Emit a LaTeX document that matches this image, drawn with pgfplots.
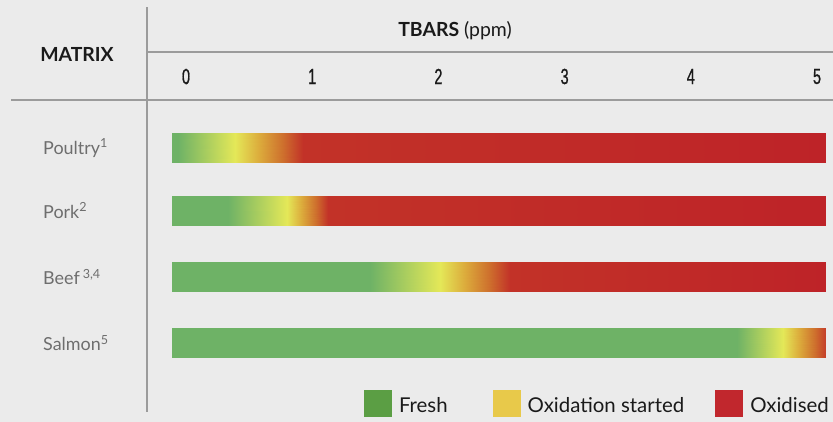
\documentclass[border=0pt]{standalone}
\usepackage{pgfplots}
\pgfplotsset{compat=1.18}
\usepackage{fontspec}
\setmainfont{Lato}
\newfontfamily\numfont{Liberation Sans}[FakeStretch=0.66,FakeBold=0.8]
\definecolor{bg}{RGB}{235,235,235}
\definecolor{rule}{RGB}{155,155,155}
\definecolor{labgray}{RGB}{110,110,110}
\definecolor{txt}{RGB}{26,26,26}
\definecolor{legGreen}{RGB}{91,158,68}
\definecolor{legYellow}{RGB}{232,201,74}
\definecolor{legRed}{RGB}{193,39,45}
\begin{document}
\begin{tikzpicture}
\fill[bg] (0,0) rectangle (833bp,422bp);
\draw[rule, line width=1.2bp] (147bp,10bp) -- (147bp,415bp);
\draw[rule, line width=1.2bp] (147bp,370bp) -- (833bp,370bp);
\draw[rule, line width=1.2bp] (11bp,322bp) -- (833bp,322bp);
\node[text=txt, font=\fontsize{19.5}{19.5}\selectfont\bfseries] at (77bp,368bp) {MATRIX};
\node[text=txt, font=\fontsize{19.5}{19.5}\selectfont] at (455bp,391bp) {\textbf{TBARS} (ppm)};
\begin{axis}[
  at={(172bp,46.5bp)}, anchor=south west,
  scale only axis, width=654bp, height=260bp,
  xmin=-0.111, xmax=5.071, ymin=-0.5, ymax=3.5,
  axis line style={draw=none},
  major tick length=0pt, tick style={draw=none},
  xtick={0,1,2,3,4,5}, xticklabels={0,1,2,3,4,5},
  xticklabel pos=upper,
  xticklabel style={anchor=center, yshift=39bp, text=txt, font=\numfont\fontsize{22}{22}\selectfont},
  ytick={0,1.015,2.038,3},
  yticklabels={Salmon\textsuperscript{5},Beef\,\textsuperscript{3,4},Pork\textsuperscript{2},Poultry\textsuperscript{1}},
  yticklabel style={anchor=west, inner sep=0pt, xshift=-129bp, text=labgray, font=\fontsize{18}{18}\selectfont},
  clip=false,
  colormap={tbars}{rgb255(0cm)=(110,178,102); rgb255(1cm)=(228,232,88); rgb255(1.7cm)=(220,172,60); rgb255(2.4cm)=(206,112,45); rgb255(3cm)=(194,50,40); rgb255(4cm)=(190,35,40)},
  point meta min=0, point meta max=4,
  legend columns=3,
  legend image code/.code={\fill[#1] (0bp,-11.5bp) rectangle (28bp,15.5bp);},
  legend style={draw=none, fill=none, inner sep=0pt, outer sep=0pt,
    at={(0,0)}, anchor=north west, xshift=192bp, yshift=-14.5bp,
    font=\fontsize{20.5}{20.5}\selectfont, text=txt,
    nodes={inner sep=0pt},
    /tikz/every odd column/.append style={column sep=7bp},
    /tikz/every even column/.append style={column sep=45bp}},
]
\addlegendimage{fill=legGreen, draw=none}
\addlegendentry{Fresh}
\addlegendimage{fill=legYellow, draw=none}
\addlegendentry{Oxidation started\hspace*{-14bp}}
\addlegendimage{fill=legRed, draw=none}
\addlegendentry{Oxidised}
% Poultry
\addplot[patch, patch type=rectangle, shader=interp, point meta=explicit] coordinates {
(-0.111,2.77) [0] (-0.06,2.77) [0] (-0.06,3.23) [0] (-0.111,3.23) [0]
(-0.06,2.77) [0] (0.388,2.77) [1] (0.388,3.23) [1] (-0.06,3.23) [0]
(0.388,2.77) [1] (0.93,2.77) [3] (0.93,3.23) [3] (0.388,3.23) [1]
(0.93,2.77) [3] (5.071,2.77) [4] (5.071,3.23) [4] (0.93,3.23) [3]
};
% Pork
\addplot[patch, patch type=rectangle, shader=interp, point meta=explicit] coordinates {
(-0.111,1.808) [0] (0.333,1.808) [0] (0.333,2.268) [0] (-0.111,2.268) [0]
(0.333,1.808) [0] (0.80,1.808) [1] (0.80,2.268) [1] (0.333,2.268) [0]
(0.80,1.808) [1] (1.125,1.808) [3] (1.125,2.268) [3] (0.80,2.268) [1]
(1.125,1.808) [3] (5.071,1.808) [4] (5.071,2.268) [4] (1.125,2.268) [3]
};
% Beef
\addplot[patch, patch type=rectangle, shader=interp, point meta=explicit] coordinates {
(-0.111,0.785) [0] (1.458,0.785) [0] (1.458,1.245) [0] (-0.111,1.245) [0]
(1.458,0.785) [0] (2.013,0.785) [1] (2.013,1.245) [1] (1.458,1.245) [0]
(2.013,0.785) [1] (2.567,0.785) [3] (2.567,1.245) [3] (2.013,1.245) [1]
(2.567,0.785) [3] (5.071,0.785) [4] (5.071,1.245) [4] (2.567,1.245) [3]
};
% Salmon
\addplot[patch, patch type=rectangle, shader=interp, point meta=explicit] coordinates {
(-0.111,-0.23) [0] (4.366,-0.23) [0] (4.366,0.23) [0] (-0.111,0.23) [0]
(4.366,-0.23) [0] (4.731,-0.23) [1] (4.731,0.23) [1] (4.366,0.23) [0]
(4.731,-0.23) [1] (5.071,-0.23) [2.9] (5.071,0.23) [2.9] (4.731,0.23) [1]
};
\end{axis}
\pgfresetboundingbox
\useasboundingbox (0,0) rectangle (833bp,422bp);
\end{tikzpicture}
\end{document}
